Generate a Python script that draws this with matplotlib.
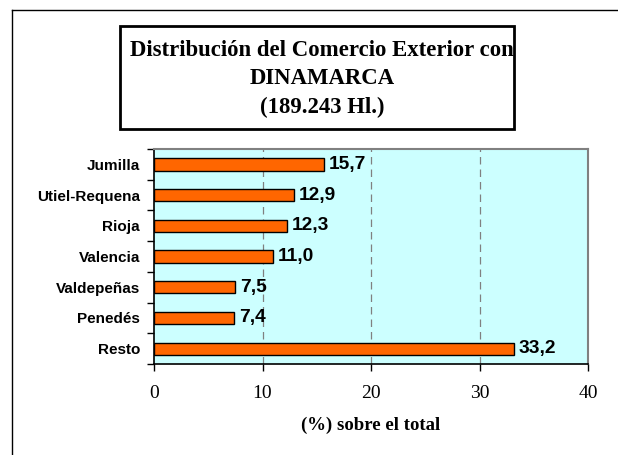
import matplotlib.pyplot as plt
from matplotlib.lines import Line2D
from matplotlib.patches import Rectangle
import numpy as np

regiones = ["Jumilla", "Utiel-Requena", "Rioja", "Valencia", "Valdepeñas", "Penedés", "Resto"]
porcentajes = [15.7, 12.9, 12.3, 11.0, 7.5, 7.4, 33.2]
x_ticks = [0, 10, 20, 30, 40]

fig = plt.figure(figsize=(6.18, 4.55), dpi=100)
fig.patch.set_facecolor("white")

# marco exterior del gráfico (solo lados izquierdo y superior visibles)
fig.add_artist(Line2D([12 / 618, 12 / 618], [0, 1 - 10 / 455], color="black", lw=1.0,
                      transform=fig.transFigure))
fig.add_artist(Line2D([12 / 618, 1], [1 - 10 / 455, 1 - 10 / 455], color="black", lw=1.0,
                      transform=fig.transFigure))

# recuadro del título
fig.add_artist(Rectangle((120 / 618, 1 - 129 / 455), (514 - 120) / 618, (129 - 26) / 455,
                         transform=fig.transFigure, fill=False, ec="black", lw=2))
fig.text(322 / 618, 1 - 79 / 455,
         "Distribución del Comercio Exterior con\nDINAMARCA\n(189.243 Hl.)",
         ha="center", va="center", fontsize=16.4, fontweight="bold",
         family="Liberation Serif", linespacing=1.45)

ax = fig.add_axes([154 / 618, 1 - 364 / 455, (588 - 154) / 618, (364 - 149) / 455])
ax.set_facecolor("#CCFFFF")

y = np.arange(len(regiones))
ax.barh(y, porcentajes, height=0.4, color="#FF6600", edgecolor="black", lw=1, zorder=3)
for yi, v in zip(y, porcentajes):
    ax.text(v + 0.4, yi, f"{v:.1f}".replace(".", ","), va="center", ha="left",
            fontsize=13.8, fontweight="bold", family="Liberation Sans", zorder=4)

ax.set_xlim(0, 40)
ax.set_ylim(len(regiones) - 0.5, -0.5)
ax.set_xticks(x_ticks)
ax.set_xticklabels([str(t) for t in x_ticks], family="Liberation Serif", fontsize=14)
ax.set_yticks(y)
ax.set_yticklabels(regiones, family="Liberation Sans", fontsize=11, fontweight="bold")
ax.set_yticks(np.arange(-0.5, len(regiones), 1), minor=True)
ax.tick_params(axis="y", which="major", length=0, pad=10)
ax.tick_params(axis="y", which="minor", length=5, width=1, color="black", direction="out")
ax.tick_params(axis="x", which="major", length=5, width=1, direction="out", pad=10)

for g in x_ticks[1:-1]:
    ax.axvline(g, color="#808080", lw=0.9, ls=(0, (6, 4)), zorder=1)

for s in ("top", "right"):
    ax.spines[s].set_color("#808080")
    ax.spines[s].set_linewidth(1.5)
for s in ("left", "bottom"):
    ax.spines[s].set_color("black")
    ax.spines[s].set_linewidth(1.2)

ax.set_xlabel("(%) sobre el total", family="Liberation Serif", fontsize=13.5,
              fontweight="bold", labelpad=11)

fig.savefig("out.png", dpi=100)
